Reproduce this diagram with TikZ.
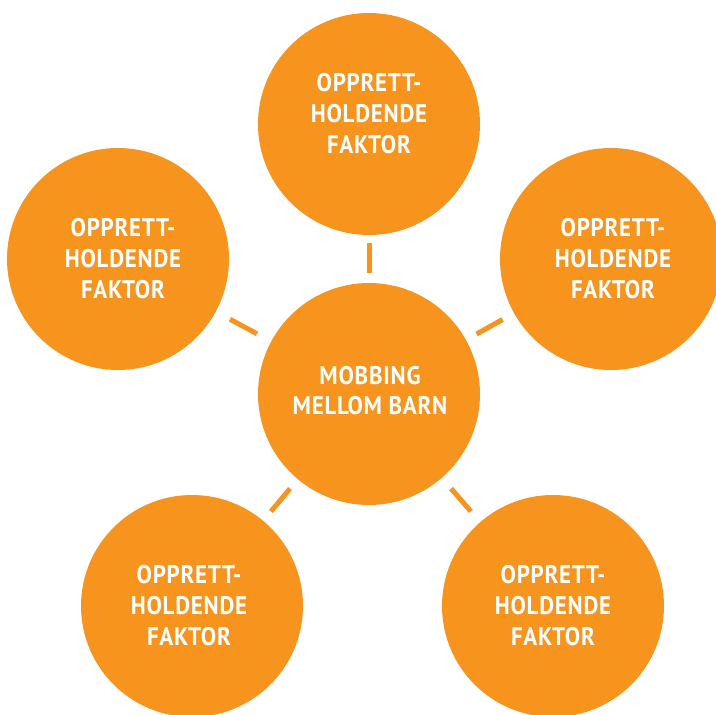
\documentclass[tikz,border=0pt]{standalone}
\usepackage{fontspec}
\newfontfamily\lblfont{PT Sans}[FakeStretch=0.9, LetterSpace=3]
\definecolor{mborange}{HTML}{F7941E}
\tikzset{
  bubble/.style={circle, fill=mborange, draw=none, minimum size=222pt, inner sep=0pt},
  lbl/.style={text=white, align=center, inner sep=0pt, font=\lblfont\bfseries\fontsize{25.5}{31}\selectfont},
  conn/.style={draw=mborange, line width=5pt}
}
\begin{document}
\begin{tikzpicture}[x=1pt,y=-1pt]
\useasboundingbox (0,0) rectangle (716,715);
\clip (0,0) rectangle (716,715);
\node[bubble] (c)  at (369,394) {};
\node[bubble] (t)  at (369,124) {};
\node[bubble] (l)  at (118,259) {};
\node[bubble] (r)  at (611,259) {};
\node[bubble] (bl) at (192,606) {};
\node[bubble] (br) at (553,606) {};
\node[lbl, font=\lblfont\bfseries\fontsize{25.5}{30}\selectfont] (tc) at (370,391) {MOBBING\\MELLOM BARN};
\node[lbl] (tt)  at (369,113.5) {OPPRETT-\\HOLDENDE\\FAKTOR};
\node[lbl] (tl)  at (123,259) {OPPRETT-\\HOLDENDE\\FAKTOR};
\node[lbl] (tr)  at (613,259) {OPPRETT-\\HOLDENDE\\FAKTOR};
\node[lbl] (tbl) at (189,606) {OPPRETT-\\HOLDENDE\\FAKTOR};
\node[lbl] (tbr) at (553,606) {OPPRETT-\\HOLDENDE\\FAKTOR};
\draw[conn, shorten <=10pt, shorten >=8pt] (c) -- (t);
\draw[conn, shorten <=16pt, shorten >=16pt] (c) -- (l);
\draw[conn, shorten <=12pt, shorten >=13pt] (c) -- (r);
\draw[conn, shorten <=12pt, shorten >=12pt] (c) -- (bl);
\draw[conn, shorten <=14pt, shorten >=14pt] (c) -- (br);
\end{tikzpicture}
\end{document}
